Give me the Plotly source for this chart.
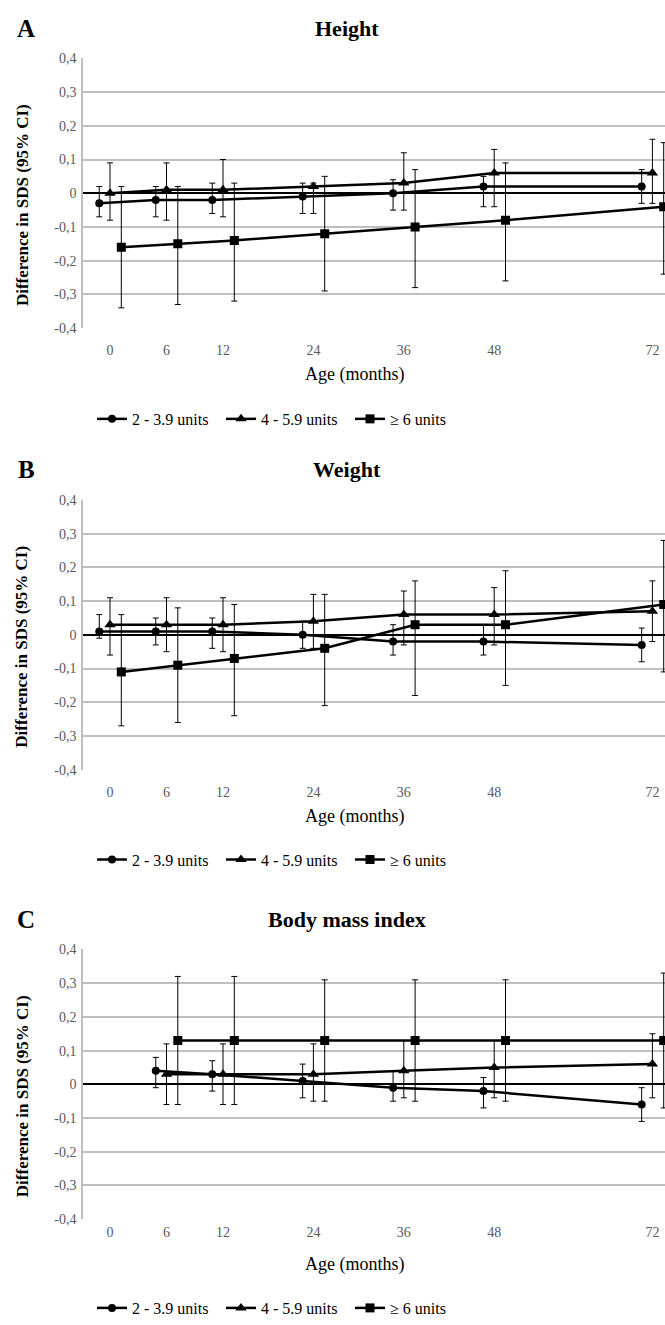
import plotly.graph_objects as go

# ---------------- data ----------------
ages = [0, 6, 12, 24, 36, 48, 72]
ages_bmi = [6, 12, 24, 36, 48, 72]
series_names = ["2 - 3.9 units", "4 - 5.9 units", "\u2265 6 units"]

# Height (A)
h_s1 = [-0.03, -0.02, -0.02, -0.01, 0.00, 0.02, 0.02]
h_s1_hi = [0.02, 0.02, 0.03, 0.03, 0.04, 0.05, 0.07]
h_s1_lo = [-0.07, -0.07, -0.06, -0.06, -0.05, -0.04, -0.03]
h_s2 = [0.00, 0.01, 0.01, 0.02, 0.03, 0.06, 0.06]
h_s2_hi = [0.09, 0.09, 0.10, 0.03, 0.12, 0.13, 0.16]
h_s2_lo = [-0.08, -0.08, -0.07, -0.06, -0.05, -0.04, -0.03]
h_s3 = [-0.16, -0.15, -0.14, -0.12, -0.10, -0.08, -0.04]
h_s3_hi = [0.02, 0.02, 0.03, 0.05, 0.07, 0.09, 0.15]
h_s3_lo = [-0.34, -0.33, -0.32, -0.29, -0.28, -0.26, -0.24]

# Weight (B)
w_s1 = [0.01, 0.01, 0.01, 0.00, -0.02, -0.02, -0.03]
w_s1_hi = [0.06, 0.05, 0.05, 0.04, 0.03, 0.03, 0.02]
w_s1_lo = [-0.01, -0.03, -0.04, -0.04, -0.06, -0.06, -0.08]
w_s2 = [0.03, 0.03, 0.03, 0.04, 0.06, 0.06, 0.07]
w_s2_hi = [0.11, 0.11, 0.11, 0.12, 0.13, 0.14, 0.16]
w_s2_lo = [-0.06, -0.05, -0.05, -0.04, -0.03, -0.03, -0.02]
w_s3 = [-0.11, -0.09, -0.07, -0.04, 0.03, 0.03, 0.09]
w_s3_hi = [0.06, 0.08, 0.09, 0.12, 0.16, 0.19, 0.28]
w_s3_lo = [-0.27, -0.26, -0.24, -0.21, -0.18, -0.15, -0.11]

# Body mass index (C)
b_s1 = [0.04, 0.03, 0.01, -0.01, -0.02, -0.06]
b_s1_hi = [0.08, 0.07, 0.06, 0.04, 0.02, -0.01]
b_s1_lo = [-0.01, -0.02, -0.04, -0.05, -0.07, -0.11]
b_s2 = [0.03, 0.03, 0.03, 0.04, 0.05, 0.06]
b_s2_hi = [0.12, 0.12, 0.12, 0.13, 0.13, 0.15]
b_s2_lo = [-0.06, -0.06, -0.05, -0.04, -0.04, -0.04]
b_s3 = [0.13, 0.13, 0.13, 0.13, 0.13, 0.13]
b_s3_hi = [0.32, 0.32, 0.31, 0.31, 0.31, 0.33]
b_s3_lo = [-0.06, -0.06, -0.05, -0.05, -0.05, -0.07]

y_ticks = [-0.4, -0.3, -0.2, -0.1, 0, 0.1, 0.2, 0.3, 0.4]
y_ticktext = ["-0,4", "-0,3", "-0,2", "-0,1", "0", "0,1", "0,2", "0,3", "0,4"]

panels = [
    dict(letter="A", title="Height", x=ages,
         s=[(h_s1, h_s1_hi, h_s1_lo), (h_s2, h_s2_hi, h_s2_lo), (h_s3, h_s3_hi, h_s3_lo)]),
    dict(letter="B", title="Weight", x=ages,
         s=[(w_s1, w_s1_hi, w_s1_lo), (w_s2, w_s2_hi, w_s2_lo), (w_s3, w_s3_hi, w_s3_lo)]),
    dict(letter="C", title="Body mass index", x=ages_bmi,
         s=[(b_s1, b_s1_hi, b_s1_lo), (b_s2, b_s2_hi, b_s2_lo), (b_s3, b_s3_hi, b_s3_lo)]),
]

# ---------------- layout helpers ----------------
W, H = 665, 1325
AGE_POS = {0: 0.0, 6: 1.0, 12: 2.0, 24: 3.6, 36: 5.2, 48: 6.8, 72: 9.6}  # axis scale
SHIFT = [-0.19, 0.0, 0.2]
SYMBOLS = ["circle", "triangle-up", "square"]
MSIZE = [8, 10, 9]
FONT = "Liberation Serif, Times New Roman, serif"
GRID = "#BFBFBF"
TICKC = "#595959"

def py(px):
    return 1 - px / H

def pxx(px):
    return px / W

plot_left = 83
geo = [
    dict(top=52, bot=325, title_y=22, xtitle_y=372, legend_y=417, standoff=12),
    dict(top=499, bot=772, title_y=468, xtitle_y=819, legend_y=863, standoff=12),
    dict(top=954, bot=1227, title_y=924, xtitle_y=1273, legend_y=1317, standoff=3),
]

fig = go.Figure()
annotations = []
layout_axes = {}

def ann(text, x, y, size, angle=0):
    return dict(text=text, x=pxx(x), y=py(y), xref="paper", yref="paper",
                xanchor="center", yanchor="middle", showarrow=False, textangle=angle,
                font=dict(family=FONT, size=size, color="black"))

for i, (p, g) in enumerate(zip(panels, geo)):
    n = "" if i == 0 else str(i + 1)
    xa, ya = "x" + n, "y" + n
    lg = "legend" + n
    for k in range(3):
        vals, hi, lo = p["s"][k]
        fig.add_trace(go.Scatter(
            x=[AGE_POS[a] + SHIFT[k] for a in p["x"]],
            y=vals,
            mode="lines+markers",
            name=series_names[k],
            line=dict(color="black", width=2.5),
            marker=dict(symbol=SYMBOLS[k], size=MSIZE[k], color="black"),
            error_y=dict(type="data", symmetric=False,
                         array=[h - v for h, v in zip(hi, vals)],
                         arrayminus=[v - l for v, l in zip(vals, lo)],
                         color="black", thickness=1, width=3),
            xaxis=xa, yaxis=ya, legend=lg,
        ))
    layout_axes["xaxis" + n] = dict(
        domain=[pxx(plot_left), 1.0], anchor=ya,
        range=[-0.478, 9.823],
        tickvals=[AGE_POS[a] for a in ages], ticktext=[str(a) for a in ages],
        showgrid=False, zeroline=False, showline=False, ticks="",
        tickfont=dict(family=FONT, size=14, color=TICKC),
        ticklabelstandoff=g["standoff"],
    )
    layout_axes["yaxis" + n] = dict(
        domain=[py(g["bot"]), py(g["top"])], anchor=xa,
        range=[-0.4, 0.4], tickvals=y_ticks, ticktext=y_ticktext,
        showgrid=True, gridcolor=GRID, gridwidth=1.5,
        zeroline=True, zerolinecolor="black", zerolinewidth=1.8,
        showline=True, linecolor=GRID, linewidth=1.5, ticks="",
        tickfont=dict(family=FONT, size=14, color=TICKC),
        ticklabelstandoff=2,
    )
    layout_axes[lg] = dict(
        orientation="h", x=pxx(92), xanchor="left", y=py(g["legend_y"]), yanchor="middle",
        font=dict(family=FONT, size=16, color="black"),
        bgcolor="rgba(0,0,0,0)", entrywidth=84, entrywidthmode="pixels",
        itemwidth=30,
    )
    annotations += [
        ann("<b>" + p["letter"] + "</b>", 26, g["title_y"], 25),
        ann("<b>" + p["title"] + "</b>", 347, g["title_y"], 22),
        ann("Age (months)", 354, g["xtitle_y"], 18),
        ann("<b>Difference in SDS (95% CI)</b>", 22, (g["top"] + g["bot"]) / 2 + 12, 17, -90),
    ]

fig.update_layout(
    width=W, height=H,
    margin=dict(l=0, r=0, t=0, b=0),
    paper_bgcolor="white", plot_bgcolor="white",
    showlegend=True,
    annotations=annotations,
    **layout_axes,
)

fig.write_html(
    "out.html",
    config={"displayModeBar": False},
    post_script="document.body.style.margin='0';document.body.style.overflow='hidden';",
)
